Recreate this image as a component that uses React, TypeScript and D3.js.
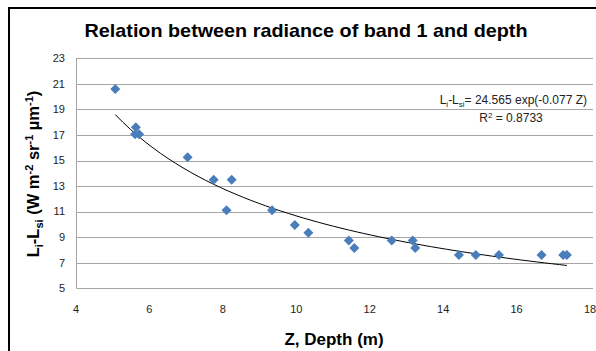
import { useEffect, useRef } from "react";
import * as d3 from "d3";

// depth (m) and radiance difference
const depth = [
  5.07, 5.63, 5.61, 5.72, 7.04, 7.75, 8.24, 8.1, 9.34, 9.96, 10.33, 11.43,
  11.58, 12.6, 13.17, 13.24, 14.43, 14.89, 15.52, 16.68, 17.27, 17.37,
];
const radiance = [
  20.6, 17.6, 17.05, 17.05, 15.25, 13.5, 13.5, 11.1, 11.1, 9.95, 9.35, 8.75,
  8.15, 8.75, 8.75, 8.15, 7.6, 7.6, 7.6, 7.6, 7.6, 7.6,
];
const xTicks = [4, 6, 8, 10, 12, 14, 16, 18];
const yTicks = [5, 7, 9, 11, 13, 15, 17, 19, 21, 23];

const W = 596;
const H = 351;
const FONT = "'Liberation Sans', Arial, sans-serif";

export default function App() {
  const svgRef = useRef<SVGSVGElement>(null);

  useEffect(() => {
    const svg = d3.select(svgRef.current);
    svg.selectAll("*").remove();

    const x = d3.scaleLinear().domain([4, 18]).range([76, 590]);
    const y = d3.scaleLinear().domain([5, 23]).range([288.3, 58.3]);

    // chart frame (only top/left visible in the crop)
    svg.append("path")
      .attr("d", `M9,${H} V8 H${W}`)
      .attr("fill", "none")
      .attr("stroke", "#000")
      .attr("stroke-width", 2);

    // title
    svg.append("text")
      .attr("x", 306)
      .attr("y", 37)
      .attr("text-anchor", "middle")
      .attr("font-family", FONT)
      .attr("font-weight", "bold")
      .attr("font-size", 19)
      .attr("textLength", 443)
      .attr("lengthAdjust", "spacingAndGlyphs")
      .attr("fill", "#000")
      .text("Relation between radiance of band 1 and depth");

    // gridlines
    svg.append("g")
      .selectAll("line")
      .data(yTicks.slice(1))
      .join("line")
      .attr("x1", x(4))
      .attr("x2", 593)
      .attr("y1", (d) => Math.round(y(d)) + 0.5)
      .attr("y2", (d) => Math.round(y(d)) + 0.5)
      .attr("stroke", "#a6a6a6")
      .attr("stroke-width", 1);

    // axis lines
    svg.append("path")
      .attr("d", `M${x(4) + 0.5},${y(23)} V${Math.round(y(5)) + 0.5} H593`)
      .attr("fill", "none")
      .attr("stroke", "#a6a6a6")
      .attr("stroke-width", 1);

    // tick labels
    svg.append("g")
      .selectAll("text")
      .data(yTicks)
      .join("text")
      .attr("x", 65)
      .attr("y", (d) => y(d))
      .attr("dy", "0.35em")
      .attr("text-anchor", "end")
      .attr("font-family", FONT)
      .attr("font-size", 11)
      .attr("fill", "#222")
      .text((d) => d);

    svg.append("g")
      .selectAll("text")
      .data(xTicks)
      .join("text")
      .attr("x", (d) => x(d))
      .attr("y", 309)
      .attr("dy", "0.35em")
      .attr("text-anchor", "middle")
      .attr("font-family", FONT)
      .attr("font-size", 11)
      .attr("fill", "#222")
      .text((d) => d);

    // power trendline: least squares in log-log space
    const lx = depth.map(Math.log);
    const ly = radiance.map(Math.log);
    const mx = d3.mean(lx)!;
    const my = d3.mean(ly)!;
    const b =
      d3.sum(lx, (v, i) => (v - mx) * (ly[i] - my)) /
      d3.sum(lx, (v) => (v - mx) ** 2);
    const a = Math.exp(my - b * mx);
    const [zMin, zMax] = d3.extent(depth) as [number, number];
    const zs = d3.range(0, 61).map((i) => zMin + ((zMax - zMin) * i) / 60);
    const line = d3.line<number>()
      .x((z) => x(z))
      .y((z) => y(a * Math.pow(z, b)));
    svg.append("path")
      .datum(zs)
      .attr("d", line)
      .attr("fill", "none")
      .attr("stroke", "#000")
      .attr("stroke-width", 1);

    // diamonds
    svg.append("g")
      .selectAll("path")
      .data(depth)
      .join("path")
      .attr("transform", (d, i) => `translate(${x(d)},${y(radiance[i])})`)
      .attr("d", "M0,-5 L5,0 L0,5 L-5,0 Z")
      .attr("fill", "#4a7ebb");

    // equation label
    const eq = svg.append("text")
      .attr("x", 587)
      .attr("y", 104)
      .attr("text-anchor", "end")
      .attr("font-family", FONT)
      .attr("font-size", 12)
      .attr("fill", "#222");
    eq.append("tspan").text("L");
    eq.append("tspan").attr("dy", 3).attr("font-size", 8).text("i");
    eq.append("tspan").attr("dy", -3).text("-L");
    eq.append("tspan").attr("dy", 3).attr("font-size", 8).text("si");
    eq.append("tspan").attr("dy", -3).text("= 24.565  exp(-0.077 Z)");

    const r2 = svg.append("text")
      .attr("x", 511)
      .attr("y", 122)
      .attr("text-anchor", "middle")
      .attr("font-family", FONT)
      .attr("font-size", 12)
      .attr("fill", "#222");
    r2.append("tspan").text("R");
    r2.append("tspan").attr("dy", -4).attr("font-size", 8).text("2");
    r2.append("tspan").attr("dy", 4).text(" = 0.8733");

    // axis titles
    svg.append("text")
      .attr("x", 334)
      .attr("y", 345)
      .attr("text-anchor", "middle")
      .attr("font-family", FONT)
      .attr("font-weight", "bold")
      .attr("font-size", 17)
      .attr("fill", "#000")
      .text("Z, Depth (m)");

    const yt = svg.append("text")
      .attr("transform", "translate(39,174) rotate(-90)")
      .attr("text-anchor", "middle")
      .attr("font-family", FONT)
      .attr("font-weight", "bold")
      .attr("font-size", 16.5)
      .attr("fill", "#000");
    yt.append("tspan").text("L");
    yt.append("tspan").attr("dy", 4).attr("font-size", 11).text("i");
    yt.append("tspan").attr("dy", -4).text("-L");
    yt.append("tspan").attr("dy", 4).attr("font-size", 11).text("si");
    yt.append("tspan").attr("dy", -4).text(" (W m");
    yt.append("tspan").attr("dy", -6).attr("font-size", 11).text("-2");
    yt.append("tspan").attr("dy", 6).text(" sr");
    yt.append("tspan").attr("dy", -6).attr("font-size", 11).text("-1");
    yt.append("tspan").attr("dy", 6).text(" \u00b5m");
    yt.append("tspan").attr("dy", -6).attr("font-size", 11).text("-1");
    yt.append("tspan").attr("dy", 6).text(")");
  }, []);

  return (
    <svg
      ref={svgRef}
      width={W}
      height={H}
      style={{ position: "absolute", left: 0, top: 0, background: "#fff" }}
    />
  );
}
